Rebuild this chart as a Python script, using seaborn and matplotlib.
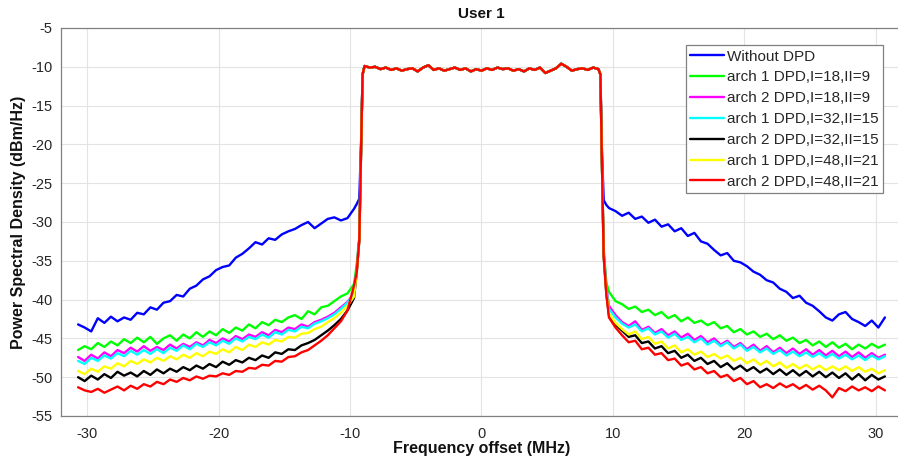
import numpy as np
import pandas as pd
import matplotlib
matplotlib.use("Agg")
import matplotlib.pyplot as plt
import seaborn as sns

# ---------------- data ----------------
series_names = [
    "Without DPD",
    "arch 1 DPD,I=18,II=9",
    "arch 2 DPD,I=18,II=9",
    "arch 1 DPD,I=32,II=15",
    "arch 2 DPD,I=32,II=15",
    "arch 1 DPD,I=48,II=21",
    "arch 2 DPD,I=48,II=21",
]
series_colors = ["#0000ff", "#00ff00", "#ff00ff", "#00ffff", "#000000", "#ffff00", "#ff0000"]

# frequency grids (MHz)
left_start, left_end = -30.7, -9.7
left_edge_freq = [-9.5, -9.3, -9.15, -9.05]
inband_start, inband_end = -8.9, 8.9
right_edge_freq = [9.05, 9.15, 9.3, 9.5]
right_start, right_end = 9.7, 30.7

# shared in-band PSD (dBm/Hz)
inband_psd = [-9.9, -10.1, -10.0, -10.3, -10.1, -10.4, -10.2, -10.5, -10.3, -10.2,
              -10.6, -10.1, -9.8, -10.4, -10.2, -10.5, -10.3, -10.1, -10.4, -10.2,
              -10.6, -10.3, -10.5, -10.2, -10.4, -10.1, -10.3, -10.2, -10.5, -10.3,
              -10.6, -10.2, -10.4, -10.1, -10.8, -10.5, -10.2, -9.6, -10.0, -10.5,
              -10.3, -10.2, -10.4, -10.1, -10.3]

# out-of-band PSD, left side
left_blue = [-43.2, -43.6, -44.1, -42.4, -43.0, -42.2, -42.8, -42.3, -42.6, -41.7,
             -41.9, -41.0, -41.3, -40.4, -40.2, -39.4, -39.6, -38.6, -38.2, -37.4,
             -37.0, -36.2, -35.8, -35.6, -34.6, -34.1, -33.4, -32.6, -32.9, -32.1,
             -32.3, -31.6, -31.2, -30.9, -30.4, -30.0, -30.8, -30.2, -29.6, -29.4,
             -29.8, -29.5, -28.3]
left_green = [-46.5, -46.0, -46.4, -45.6, -46.1, -45.4, -45.9, -45.1, -45.6, -44.9,
              -45.5, -44.8, -45.7, -45.0, -44.6, -45.3, -44.5, -45.0, -44.2, -44.8,
              -44.1, -44.6, -43.8, -44.3, -43.6, -44.0, -43.2, -43.7, -42.9, -43.3,
              -42.6, -42.9, -42.3, -42.0, -42.5, -41.5, -41.9, -41.0, -40.8, -40.2,
              -39.6, -39.2, -38.0]
left_magenta = [-47.4, -47.9, -47.1, -47.6, -46.8, -47.3, -46.5, -46.9, -46.2, -46.7,
                -46.0, -46.6, -46.1, -46.5, -45.8, -46.3, -45.7, -46.1, -45.5, -45.9,
                -45.2, -45.6, -45.0, -45.4, -44.7, -45.1, -44.5, -44.8, -44.2, -44.6,
                -43.9, -44.2, -43.6, -43.8, -43.2, -43.5, -42.9, -42.6, -42.2, -41.7,
                -41.0, -40.3, -39.2]
left_cyan = [-47.9, -48.3, -47.5, -47.9, -47.2, -47.6, -46.9, -47.3, -46.6, -47.1,
             -46.5, -47.0, -46.4, -46.9, -46.2, -46.6, -45.9, -46.4, -45.7, -46.1,
             -45.5, -45.9, -45.3, -45.7, -45.0, -45.4, -44.8, -45.1, -44.5, -44.9,
             -44.2, -44.5, -43.9, -44.1, -43.5, -43.7, -43.1, -42.8, -42.4, -41.9,
             -41.2, -40.4, -39.3]
left_black = [-50.0, -50.5, -49.8, -50.3, -49.6, -50.1, -49.3, -49.8, -49.4, -49.9,
              -49.2, -49.7, -49.0, -49.5, -48.9, -49.3, -48.7, -49.1, -48.5, -48.9,
              -48.3, -48.7, -48.0, -48.4, -47.8, -48.1, -47.5, -47.8, -47.2, -47.5,
              -46.8, -47.0, -46.4, -46.5, -45.9, -45.6, -45.2, -44.6, -44.0, -43.3,
              -42.5, -41.4, -39.8]
left_yellow = [-49.2, -49.6, -48.9, -49.3, -48.6, -48.9, -48.2, -48.6, -47.9, -48.3,
               -47.7, -48.1, -47.5, -47.9, -47.3, -47.7, -47.1, -47.5, -46.9, -47.3,
               -46.7, -47.0, -46.4, -46.8, -46.1, -46.5, -45.8, -46.1, -45.5, -45.8,
               -45.2, -45.4, -44.8, -44.9, -44.4, -44.3, -43.8, -43.5, -42.9, -42.4,
               -41.7, -40.8, -39.6]
left_red = [-51.3, -51.7, -51.9, -51.5, -52.0, -51.6, -51.2, -51.7, -51.1, -51.5,
            -50.9, -51.2, -50.6, -50.9, -50.3, -50.6, -50.1, -50.4, -49.9, -50.2,
            -49.8, -49.9, -49.5, -49.7, -49.2, -49.3, -48.8, -48.9, -48.4, -48.5,
            -47.9, -48.0, -47.4, -47.3, -46.8, -46.5, -45.9, -45.3, -44.6, -43.7,
            -42.8, -41.4, -38.2]

# steep band edges
left_edge_blue = [-27.7, -27.0, -19.0, -11.0]
left_edge_green = [-35.5, -32.0, -19.5, -11.0]
left_edge_magenta = [-36.0, -32.2, -19.5, -11.0]
left_edge_cyan = [-36.3, -32.3, -19.5, -11.0]
left_edge_black = [-36.6, -32.4, -19.5, -11.0]
left_edge_yellow = [-36.5, -32.3, -19.5, -11.0]
left_edge_red = [-36.6, -32.3, -19.4, -11.0]

right_edge_blue = [-11.0, -20.0, -27.2, -27.8]
right_edge_green = [-11.0, -21.0, -33.5, -37.8]
right_edge_magenta = [-11.0, -21.0, -34.0, -38.4]
right_edge_cyan = [-11.0, -21.0, -34.2, -38.7]
right_edge_black = [-11.0, -21.0, -34.4, -39.2]
right_edge_yellow = [-11.0, -21.0, -34.3, -39.0]
right_edge_red = [-11.0, -21.0, -34.5, -39.3]

# out-of-band PSD, right side
right_blue = [-28.2, -28.6, -29.2, -28.8, -29.6, -29.3, -30.1, -29.7, -30.6, -30.3,
              -31.2, -30.8, -31.8, -31.4, -32.5, -32.8, -33.6, -34.3, -34.0, -35.0,
              -35.2, -35.7, -36.4, -36.8, -37.5, -37.8, -38.6, -39.0, -39.8, -39.5,
              -40.4, -40.8, -41.5, -42.3, -42.7, -41.9, -41.6, -42.5, -42.9, -43.4,
              -42.7, -43.6, -42.3]
right_green = [-39.0, -40.2, -40.6, -41.2, -40.9, -41.6, -41.3, -42.0, -41.6, -42.4,
               -42.0, -42.8, -42.3, -43.0, -42.7, -43.3, -42.9, -43.7, -43.4, -44.2,
               -43.8, -44.5, -44.1, -44.8, -44.4, -45.1, -44.6, -45.3, -44.9, -45.6,
               -45.2, -45.9, -45.4, -46.1, -45.5, -46.2, -45.7, -46.4, -45.8, -46.3,
               -45.7, -46.2, -45.8]
right_magenta = [-40.8, -42.0, -42.9, -43.4, -42.8, -43.9, -43.5, -44.3, -43.8, -44.6,
                 -44.1, -44.9, -44.4, -45.2, -44.7, -45.5, -45.0, -45.8, -45.3, -46.1,
                 -45.6, -46.4, -45.8, -46.6, -46.0, -46.8, -46.2, -46.9, -46.3, -47.0,
                 -46.4, -47.1, -46.5, -47.2, -46.6, -47.3, -46.7, -47.4, -46.8, -47.5,
                 -46.9, -47.5, -47.1]
right_cyan = [-41.2, -42.3, -43.1, -43.6, -43.2, -44.1, -43.7, -44.5, -44.1, -44.9,
              -44.4, -45.2, -44.8, -45.5, -45.0, -45.8, -45.3, -46.0, -45.5, -46.3,
              -45.8, -46.6, -46.1, -46.8, -46.3, -47.0, -46.5, -47.2, -46.7, -47.3,
              -46.8, -47.4, -46.9, -47.5, -47.0, -47.6, -47.1, -47.7, -47.2, -47.8,
              -47.2, -47.7, -47.3]
right_black = [-42.0, -43.2, -44.0, -44.8, -44.6, -45.6, -45.4, -46.3, -46.0, -46.9,
               -46.6, -47.5, -47.1, -47.9, -47.5, -48.3, -47.9, -48.7, -48.2, -49.0,
               -48.5, -49.2, -48.7, -49.4, -48.9, -49.6, -49.0, -49.7, -49.1, -49.8,
               -49.2, -49.9, -49.3, -50.0, -49.4, -50.1, -49.5, -50.3, -49.6, -50.4,
               -49.7, -50.3, -49.9]
right_yellow = [-41.8, -43.0, -43.8, -44.5, -44.1, -45.1, -44.8, -45.7, -45.4, -46.3,
                -45.9, -46.8, -46.4, -47.1, -46.7, -47.4, -47.0, -47.6, -47.2, -47.9,
                -47.5, -48.2, -47.7, -48.4, -47.9, -48.6, -48.1, -48.8, -48.3, -48.9,
                -48.4, -49.0, -48.5, -49.1, -48.6, -49.1, -48.6, -49.2, -48.7, -49.3,
                -48.9, -49.5, -49.1]
right_red = [-42.3, -43.6, -44.6, -45.5, -45.3, -46.4, -46.2, -47.1, -46.9, -47.8,
             -47.6, -48.5, -48.2, -49.0, -48.7, -49.5, -49.2, -50.0, -49.7, -50.5,
             -50.1, -50.9, -50.5, -51.3, -50.9, -51.4, -50.8, -51.3, -50.9, -51.5,
             -51.0, -51.6, -51.1, -51.7, -52.6, -51.4, -51.8, -51.2, -51.7, -51.3,
             -51.8, -51.2, -51.7]

left_parts = [left_blue, left_green, left_magenta, left_cyan, left_black, left_yellow, left_red]
left_edges = [left_edge_blue, left_edge_green, left_edge_magenta, left_edge_cyan,
              left_edge_black, left_edge_yellow, left_edge_red]
right_edges = [right_edge_blue, right_edge_green, right_edge_magenta, right_edge_cyan,
               right_edge_black, right_edge_yellow, right_edge_red]
right_parts = [right_blue, right_green, right_magenta, right_cyan, right_black, right_yellow, right_red]

frames = []
for name, lp, le, re_, rp in zip(series_names, left_parts, left_edges, right_edges, right_parts):
    f = np.concatenate([
        np.linspace(left_start, left_end, len(lp)),
        left_edge_freq,
        np.linspace(inband_start, inband_end, len(inband_psd)),
        right_edge_freq,
        np.linspace(right_start, right_end, len(rp)),
    ])
    p = np.concatenate([lp, le, inband_psd, re_, rp])
    frames.append(pd.DataFrame({"freq": f, "psd": p, "series": name}))
df = pd.concat(frames, ignore_index=True)

# ---------------- plot ----------------
sns.set_style("whitegrid")
plt.rcParams["font.family"] = ["Liberation Sans", "DejaVu Sans"]
plt.rcParams["axes.unicode_minus"] = False

W, H = 898, 459
fig = plt.figure(figsize=(W / 100, H / 100), dpi=100)
ax_l, ax_r, ax_t, ax_b = 61, 902, 28, 416
ax = fig.add_axes([ax_l / W, 1 - ax_b / H, (ax_r - ax_l) / W, (ax_b - ax_t) / H])

for name, color in zip(series_names, series_colors):
    sub = df[df["series"] == name]
    sns.lineplot(data=sub, x="freq", y="psd", ax=ax, color=color, linewidth=1.7,
                 label=name, sort=False, estimator=None)

ax.set_xlim(-32, 32)
ax.set_ylim(-55, -5)
ax.set_xticks([-30, -20, -10, 0, 10, 20, 30])
ax.set_yticks(np.arange(-55, -4, 5))
ax.grid(True, color="#e3e3e3", linewidth=0.8)
ax.set_facecolor("white")
for s in ax.spines.values():
    s.set_color("#808080")
    s.set_linewidth(0.9)
ax.tick_params(axis="both", direction="in", length=4, width=0.8, color="#808080",
               labelsize=10.5, labelcolor="#262626", pad=6)
ax.tick_params(axis="x", pad=8)

ax.set_title("User 1", fontsize=11, fontweight="bold", color="#111111", pad=7)
ax.set_xlabel("Frequency offset (MHz)", fontsize=11.5, fontweight="bold", color="#111111", labelpad=0)
ax.set_ylabel("Power Spectral Density (dBm/Hz)", fontsize=11.5, fontweight="bold", color="#111111", labelpad=4)

leg = ax.legend(loc="upper right", bbox_to_anchor=(883 / W, 1 - 45 / H),
                bbox_transform=fig.transFigure, borderaxespad=0, fontsize=11,
                frameon=True, fancybox=False, framealpha=1, edgecolor="#808080",
                handlelength=2.2, handletextpad=0.2, labelspacing=0.45, borderpad=0.3)
leg.get_frame().set_linewidth(0.9)
for line in leg.get_lines():
    line.set_linewidth(1.7)

fig.savefig("out.png", dpi=100)
